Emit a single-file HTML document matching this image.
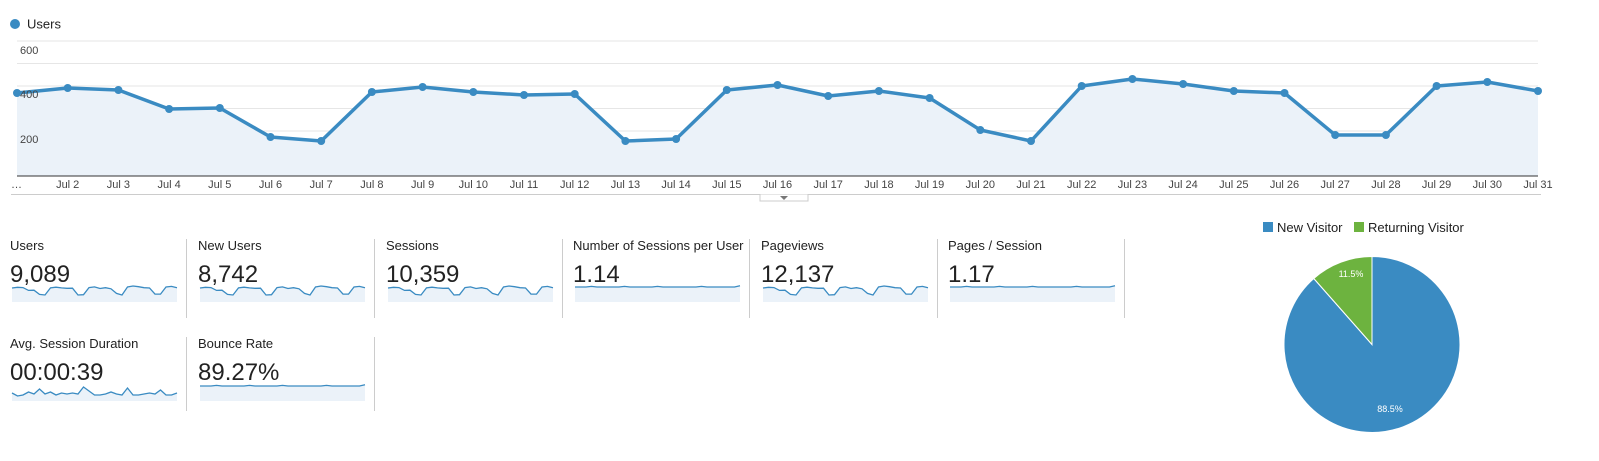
<!DOCTYPE html>
<html><head><meta charset="utf-8"><style>
body{margin:0;background:#fff;font-family:"Liberation Sans",Arial,sans-serif;}
svg text{font-family:"Liberation Sans",Arial,sans-serif;}
</style></head><body>
<svg id="s" width="1599" height="456" xmlns="http://www.w3.org/2000/svg">
<circle cx="15" cy="24" r="5" fill="#3a8bc2"/>
<text x="27" y="28.5" font-size="13" fill="#222">Users</text>
<g stroke="#e6e6e6" stroke-width="1">
<line x1="17" y1="41" x2="1538" y2="41"/><line x1="17" y1="63.5" x2="1538" y2="63.5"/>
<line x1="17" y1="86" x2="1538" y2="86"/><line x1="17" y1="108.5" x2="1538" y2="108.5"/>
<line x1="17" y1="131" x2="1538" y2="131"/><line x1="17" y1="153.5" x2="1538" y2="153.5"/>
</g>
<g id="main"></g>
<g font-size="11" fill="#444"><text x="20" y="54">600</text><text x="20" y="98">400</text><text x="20" y="143">200</text></g>
<line x1="17" y1="176" x2="1538" y2="176" stroke="#333" stroke-width="1"/>
<line x1="11" y1="194.5" x2="1541" y2="194.5" stroke="#ccc"/>
<path d="M760 194.5 V201 H808 V194.5" fill="#fff" stroke="#ccc"/>
<path d="M780 196 L788 196 L784 200 Z" fill="#777"/>
<g id="xl" font-size="11" fill="#444"></g>
<g id="metrics"></g>
<rect x="1263" y="222" width="10" height="10" fill="#3a8bc2"/>
<text x="1277" y="232" font-size="13" fill="#222">New Visitor</text>
<rect x="1354" y="222" width="10" height="10" fill="#6db33f"/>
<text x="1368" y="232" font-size="13" fill="#222">Returning Visitor</text>
<g id="pie"></g>
</svg>
<script>
const ys=[93,88,90,109,108,137,141,92,87,92,95,94,141,139,90,85,96,91,98,130,141,86,79,84,91,93,135,135,86,82,91];
const NS="http://www.w3.org/2000/svg";
function el(p,t,a,txt){const e=document.createElementNS(NS,t);for(const k in a)e.setAttribute(k,a[k]);if(txt!==undefined)e.textContent=txt;p.appendChild(e);return e;}
const m=document.getElementById('main'),xl=document.getElementById('xl');
const X=i=>17+i*(1521/30);
let pts=ys.map((y,i)=>X(i).toFixed(1)+','+y);
el(m,'path',{d:'M17,176 L'+pts.join(' L')+' L1538,176 Z',fill:'#ebf2f9'});
el(m,'polyline',{points:pts.join(' '),fill:'none',stroke:'#3a8bc2','stroke-width':3.5,'stroke-linejoin':'round'});
ys.forEach((y,i)=>el(m,'circle',{cx:X(i),cy:y,r:4,fill:'#3a8bc2'}));
el(xl,'text',{x:11,y:188},'…');
for(let i=1;i<31;i++){el(xl,'text',{x:X(i),y:188,'text-anchor':'middle'},'Jul '+(i+1));}
const g=document.getElementById('metrics');
const cols=[10,198,386,573,761,948];
const row1=[['Users','9,089','u'],['New Users','8,742','u'],['Sessions','10,359','u'],['Number of Sessions per User','1.14','f'],['Pageviews','12,137','u'],['Pages / Session','1.17','f']];
const row2=[['Avg. Session Duration','00:00:39','d'],['Bounce Rate','89.27%','f']];
const dur=[10,13,12,9,11,6,11,9,12,10,11,10,11,4,8,12,12,11,9,11,12,5,12,12,11,10,11,7,12,12,10];
const flat=[5,5,5,4,5,5,5,5,5,4,5,5,5,5,5,4,5,5,5,5,5,5,5,4,5,5,5,5,5,5,3];
function spark(x,y0,type){
  const w=165,h=18;let p=[];
  for(let i=0;i<31;i++){let v;
    if(type=='u')v=y0+2+(ys[i]-79)/62*9;
    else if(type=='d')v=y0+dur[i];
    else v=y0+flat[i]*0.6;
    p.push((x+2+i*w/30).toFixed(1)+','+v.toFixed(1));}
  el(g,'path',{d:'M'+(x+2)+','+(y0+h)+' L'+p.join(' L')+' L'+(x+2+w)+','+(y0+h)+' Z',fill:'#ebf2f9'});
  el(g,'polyline',{points:p.join(' '),fill:'none',stroke:'#3a8bc2','stroke-width':1.3});
}
function row(arr,ly,sy,sepTop,sepBot){
  arr.forEach((r,i)=>{const x=cols[i];
    el(g,'text',{x:x,y:ly,'font-size':13,fill:'#222'},r[0]);
    el(g,'text',{x:x,y:ly+32,'font-size':24,fill:'#222'},r[1]);
    spark(x,sy,r[2]);
    el(g,'line',{x1:x+176.5,y1:sepTop,x2:x+176.5,y2:sepBot,stroke:'#ccc'});
  });
}
row(row1,250,284,239,318);
row(row2,348,383,337,411);
const pg=document.getElementById('pie');
const cx=1372,cy=344.5,r=88,a=0.115*2*Math.PI;
const ex=cx-r*Math.sin(a),ey=cy-r*Math.cos(a);
el(pg,'path',{d:`M${cx},${cy} L${cx},${cy-r} A${r},${r} 0 1,1 ${ex},${ey} Z`,fill:'#3a8bc2',stroke:'#fff','stroke-width':1});
el(pg,'path',{d:`M${cx},${cy} L${ex},${ey} A${r},${r} 0 0,1 ${cx},${cy-r} Z`,fill:'#6db33f',stroke:'#fff','stroke-width':1});
el(pg,'text',{x:1351,y:277,'font-size':9,fill:'#fff','text-anchor':'middle'},'11.5%');
el(pg,'text',{x:1390,y:412,'font-size':9,fill:'#fff','text-anchor':'middle'},'88.5%');
</script>
</body></html>
